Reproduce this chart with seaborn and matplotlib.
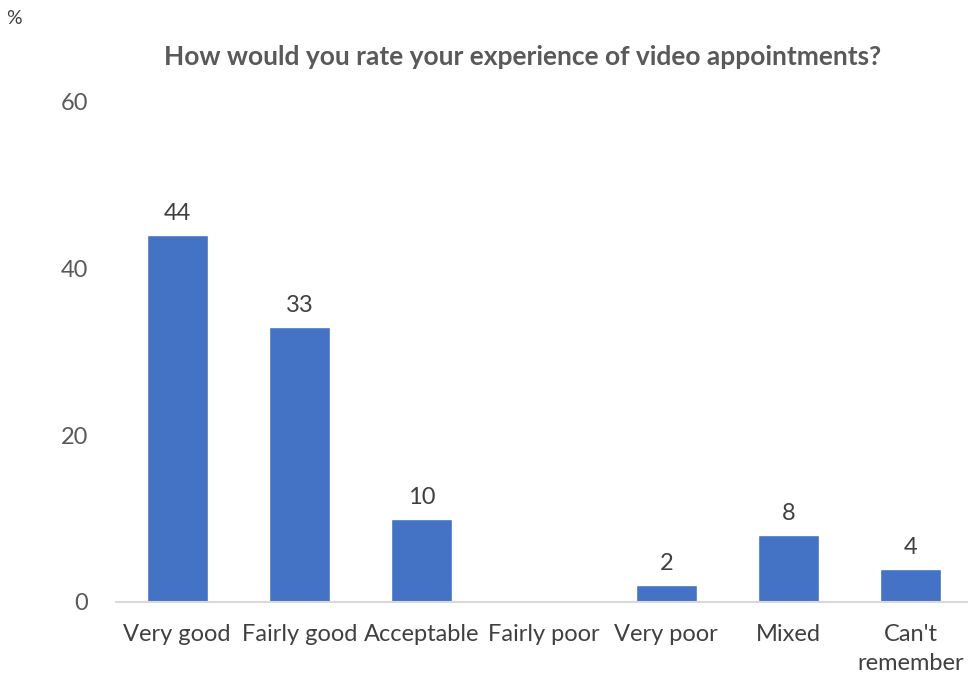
import numpy as np
import pandas as pd
import matplotlib
matplotlib.use("Agg")
import matplotlib.pyplot as plt
import seaborn as sns

categories = ["Very good", "Fairly good", "Acceptable", "Fairly poor",
              "Very poor", "Mixed", "Can't\nremember"]
percent = [44, 33, 10, np.nan, 2, 8, 4]
y_ticks = [0, 20, 40, 60]

sns.set_theme(style="white")
plt.rcParams["font.family"] = ["Lato", "DejaVu Sans"]

df = pd.DataFrame({"category": categories, "percent": percent})

fig = plt.figure(figsize=(9.68, 6.76), dpi=100)
ax = fig.add_axes([116 / 968, 1 - 602 / 676, (972 - 116) / 968, 500 / 676])

sns.barplot(data=df, x="category", y="percent", color="#4472C4",
            saturation=1, width=0.5, ax=ax)

# value labels above each bar (no label where there is no value)
for i, v in enumerate(percent):
    if not np.isnan(v):
        ax.text(i, v + 1.3, f"{v:g}", ha="center", va="bottom",
                fontsize=17, color="#404040")

ax.set_ylim(0, 60)
ax.set_xlim(-0.5, 6.5)
ax.set_yticks(y_ticks)
ax.set_xlabel("")
ax.set_ylabel("")
ax.tick_params(axis="y", labelsize=17, labelcolor="#595959", length=0, pad=20)
ax.tick_params(axis="x", labelsize=17, labelcolor="#404040", length=0, pad=16)
for lbl in ax.get_xticklabels():
    lbl.set_linespacing(1.45)
for s in ["left", "top", "right"]:
    ax.spines[s].set_visible(False)
ax.spines["bottom"].set_color("#D9D9D9")
ax.spines["bottom"].set_linewidth(1.5)

fig.text(523 / 968, 1 - 57 / 676, "How would you rate your experience of video appointments?",
         ha="center", va="center", fontsize=19, fontweight="bold", color="#595959")
fig.text(6 / 968, 1 - 18 / 676, "%", ha="left", va="center", fontsize=14, color="#404040")

fig.savefig("out.png", dpi=100)
